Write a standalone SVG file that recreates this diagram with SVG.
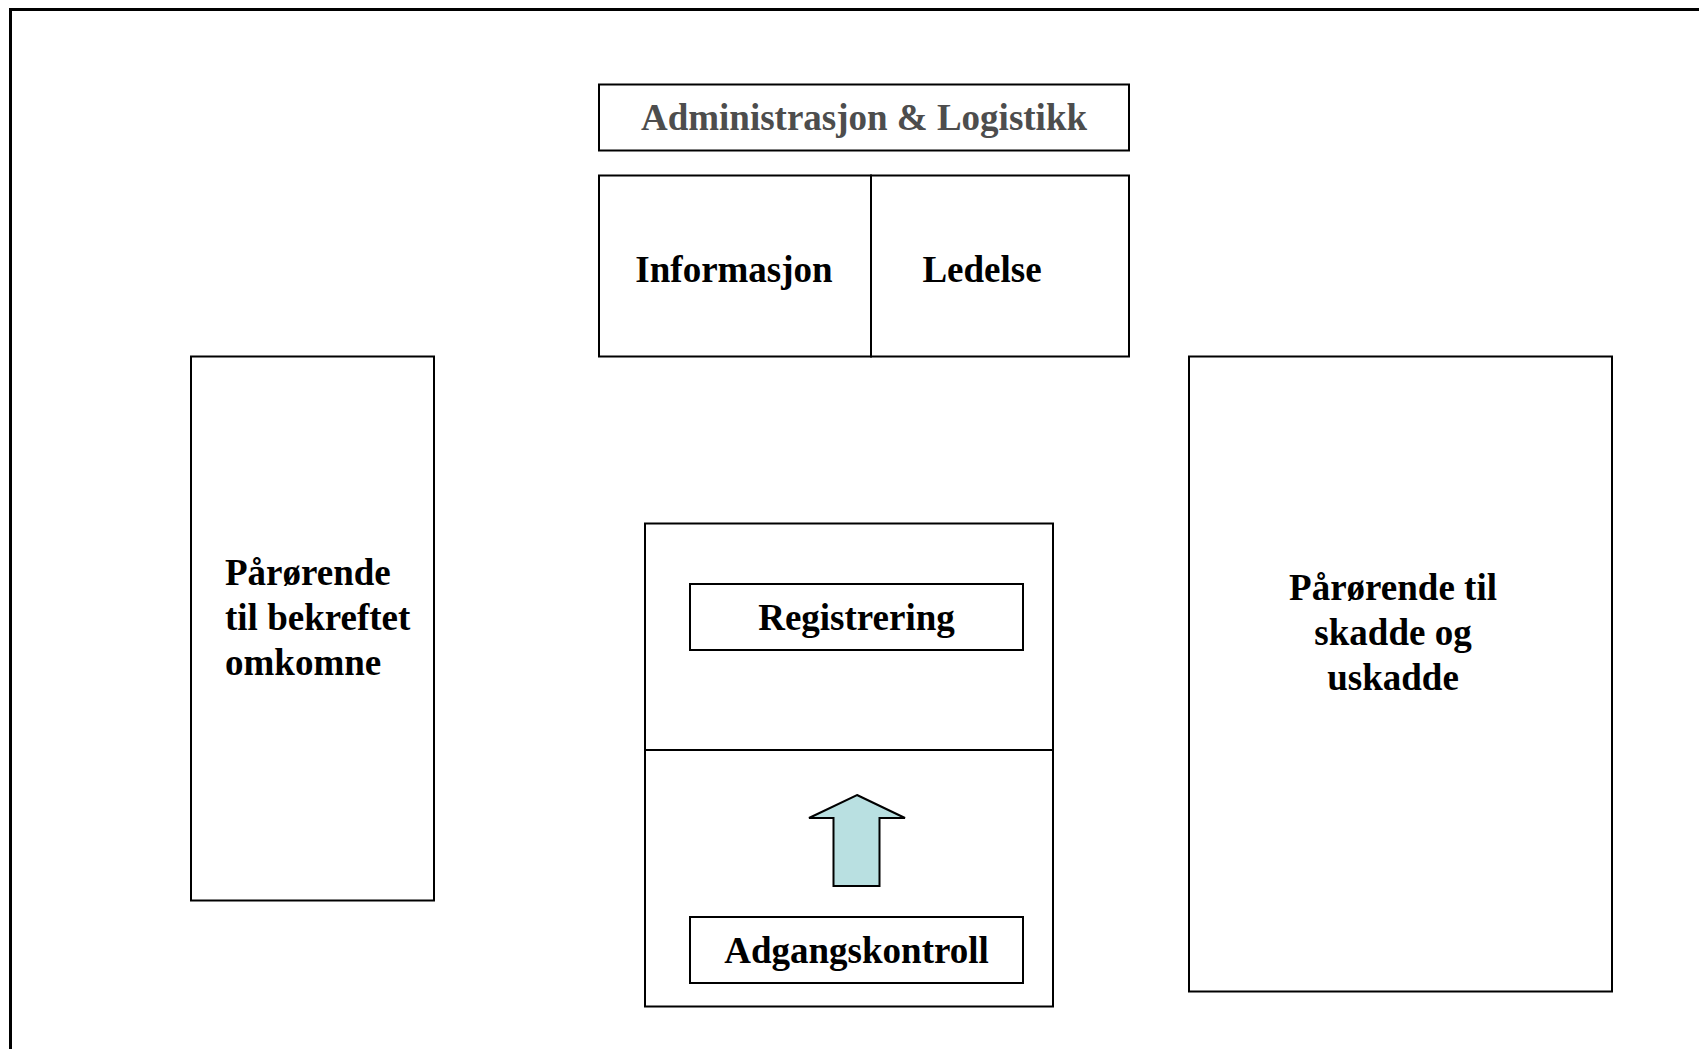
<svg xmlns="http://www.w3.org/2000/svg" width="1699" height="1049" viewBox="0 0 1699 1049">
<style>
.box{fill:#ffffff;stroke:#000000;stroke-width:2}
.t{font-family:"Liberation Serif","Times New Roman",serif;font-weight:bold;font-size:37px;fill:#000000}
.c{text-anchor:middle}
.g{fill:#4d4d4d}
</style>
<rect x="0" y="0" width="1699" height="1049" fill="#ffffff"/>
<rect id="frame" x="10.5" y="9.5" width="1720" height="1100" fill="none" stroke="#000000" stroke-width="3"/>
<g id="admin">
<rect class="box" x="599" y="84.5" width="530" height="66"/>
<text class="t c g" x="864" y="130">Administrasjon &amp; Logistikk</text>
</g>
<g id="informasjon">
<rect class="box" x="599" y="175.5" width="272" height="181"/>
<text class="t c" x="734" y="282">Informasjon</text>
</g>
<g id="ledelse">
<rect class="box" x="871" y="175.5" width="258" height="181"/>
<text class="t c" x="982" y="282">Ledelse</text>
</g>
<g id="left">
<rect class="box" x="191" y="356.5" width="243" height="544"/>
<text class="t" x="225" y="585">Pårørende</text>
<text class="t" x="225" y="630">til bekreftet</text>
<text class="t" x="225" y="675">omkomne</text>
</g>
<g id="right">
<rect class="box" x="1189" y="356.5" width="423" height="635"/>
<text class="t c" x="1393" y="600">Pårørende til</text>
<text class="t c" x="1393" y="645">skadde og</text>
<text class="t c" x="1393" y="690">uskadde</text>
</g>
<g id="center">
<rect class="box" x="645" y="523.5" width="408" height="483"/>
<line x1="645" y1="750" x2="1053" y2="750" stroke="#000000" stroke-width="2"/>
</g>
<g id="registrering">
<rect class="box" x="690" y="584" width="333" height="66"/>
<text class="t c" x="856.5" y="630">Registrering</text>
</g>
<g id="adgangskontroll">
<rect class="box" x="690" y="917" width="333" height="66"/>
<text class="t c" x="856.5" y="963">Adgangskontroll</text>
</g>
<g id="connectors">
<polygon points="857,795 905,818 879.5,818 879.5,886 833.5,886 833.5,818 809,818" fill="#b9e0e1" stroke="#000000" stroke-width="2"/>
</g>
</svg>
